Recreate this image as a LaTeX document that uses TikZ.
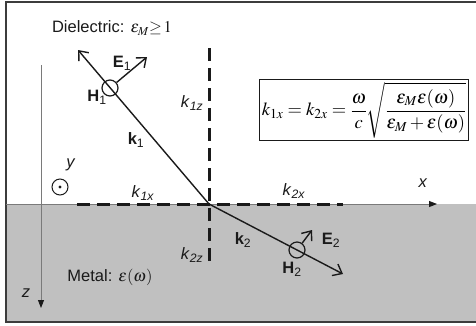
\documentclass[tikz,border=0pt]{standalone}
\usepackage{amsmath}
\usepackage{mathptmx}
\usepackage[no-math]{fontspec}
\setmainfont{Liberation Sans}
\usepackage{tikz}
\usetikzlibrary{arrows.meta,positioning}
\definecolor{ink}{HTML}{1A1A1A}
\definecolor{metal}{HTML}{C0C0C0}
\definecolor{axisgray}{HTML}{7A7A7A}
\newcommand{\kcomp}[1]{\textit{k}\textsubscript{\textit{#1}}}
\newcommand{\fvec}[2]{\textbf{#1}\textsubscript{#2}}

\begin{document}
\begin{tikzpicture}[x=1pt,y=-1pt,font=\fontsize{16.5}{19}\selectfont,
  wave/.style={ink, line width=1.4pt, -{Straight Barb[length=8pt,width=13pt,line width=1.4pt]}},
  compline/.style={ink, line width=3pt, dash pattern=on 13pt off 7pt},
  axisline/.style={axisgray, line width=0.9pt, -{Triangle[length=8pt,width=6pt,color=ink]}},
  hcirc/.style={circle, draw=ink, line width=1.2pt, minimum size=16pt, inner sep=0pt},
  lab/.style={inner sep=1pt, text=ink}]
\useasboundingbox (0,0) rectangle (476,325);
\fill[metal] (6,204) rectangle (490,322);
\draw[ink!85, line width=2pt] (6,2) rectangle (490,322);
% axes
\coordinate (O) at (209,204);
\coordinate (xtip) at (437,204);
\coordinate (zbase) at (41,65);
\coordinate (ztip) at (41,308);
\draw[axisline] (6,204) -- (xtip);
\draw[axisline] (zbase) -- (ztip);
\node[lab] (xlab) at (423,183) {\textit{x}};
\node[lab] (zlab) at (26,293) {\textit{z}};
\node[circle, draw=ink, line width=1pt, minimum size=16pt, inner sep=0pt] (ydot) at (60,187) {};
\fill[ink] (ydot.center) circle (1.6pt);
\node[lab] (ylab) at (71,165) {\textit{y}};
% wave-vector components
\coordinate (ztop) at (209,48);
\coordinate (zbot) at (209,268);
\coordinate (xleft) at (77,204);
\coordinate (xright) at (343,204);
\draw[compline] (ztop) -- (zbot);
\draw[compline] (xleft) -- (xright);
\node[lab] (k1z) at (192,103) {\kcomp{1z}};
\node[lab] (k2z) at (192,255) {\kcomp{2z}};
\node[lab] (k1x) at (143,193) {\kcomp{1x}};
\node[lab] (k2x) at (294,191) {\kcomp{2x}};
% waves
\coordinate (k1tip) at (78,50);
\coordinate (k2tip) at (343,274);
\draw[wave] (O) -- (k1tip);
\draw[wave] (O) -- (k2tip);
\node[hcirc] (H1c) at (110,88) {};
\node[hcirc] (H2c) at (297,250) {};
\coordinate (E1tip) at (147,57);
\coordinate (E2tip) at (312,230);
\draw[wave] (H1c) -- (E1tip);
\draw[wave] (H2c) -- (E2tip);
\node[lab] (k1) at (136,140) {\textbf{k}\textsubscript{1}};
\node[lab] (k2) at (243,240) {\textbf{k}\textsubscript{2}};
\node[lab] (E1) at (122,63) {\fvec{E}{1}};
\node[lab] (H1) at (97,97) {\fvec{H}{1}};
\node[lab] (E2) at (331,240) {\fvec{E}{2}};
\node[lab] (H2) at (292,269) {\fvec{H}{2}};
% media
\node[lab] (diel) at (112,28) {Dielectric: $\varepsilon_M{\geq}\,1$};
\node[lab] (metallab) at (110,277) {Metal: $\varepsilon(\omega)$};
\node[draw=ink, line width=1.2pt, fill=white, inner sep=2.5pt, font=\fontsize{18.5}{22}\selectfont]
  (formula) at (364,110)
  {$k_{1x}=k_{2x}=\dfrac{\omega}{c}\sqrt{\dfrac{\varepsilon_M\varepsilon(\omega)}{\varepsilon_M+\varepsilon(\omega)}}$};
\end{tikzpicture}
\end{document}
